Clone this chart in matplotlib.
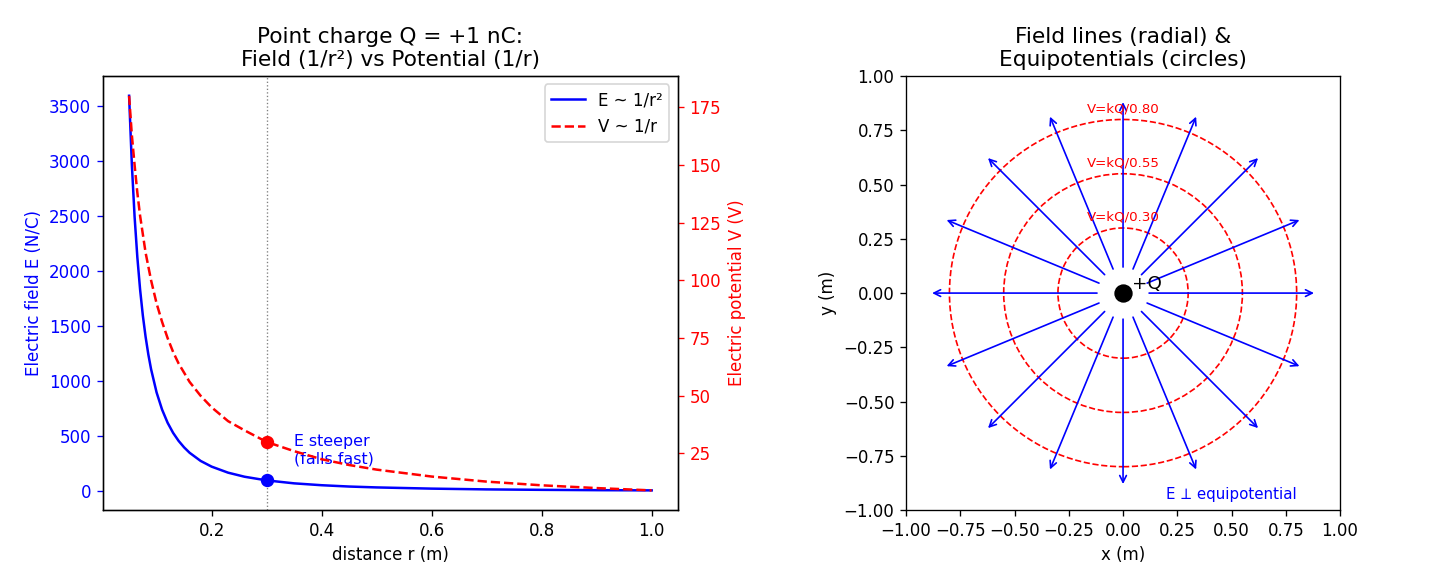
import numpy as np
import matplotlib
matplotlib.use("Agg")
import matplotlib.pyplot as plt

# distancias (m)
r = [0.05, 0.055, 0.06, 0.065, 0.07, 0.075, 0.08, 0.085, 0.09, 0.10, 0.11, 0.12,
     0.13, 0.14, 0.15, 0.16, 0.18, 0.20, 0.23, 0.26, 0.30, 0.35, 0.40, 0.45,
     0.50, 0.60, 0.70, 0.80, 0.90, 1.00]
# campo E (N/C)
E = [3596, 2972, 2497, 2128, 1835, 1598, 1405, 1244, 1110, 899, 743, 624,
     532, 459, 400, 351, 277, 225, 170, 133, 100, 73, 56, 44, 36, 25, 18,
     14, 11, 9]
# potencial V (V)
V = [180, 163, 150, 138, 128, 120, 112, 106, 100, 90, 82, 75, 69, 64, 60,
     56, 50, 45, 39, 35, 30, 26, 22.5, 20, 18, 15, 12.8, 11.2, 10, 9]

r_mark = 0.3
E_mark = 100
V_mark = 30

# lado direito: linhas de campo e equipotenciais
angulos = np.arange(0, 360, 22.5)
r_ini = 0.12
r_fim = 0.88
raios_eq = [0.30, 0.55, 0.80]

fig = plt.figure(figsize=(1430/120, 585/120), dpi=120)

ax1 = fig.add_axes([0.072, 0.128, 0.402, 0.742])
ax1.plot(r, E, color='blue', label='E ~ 1/r²')
ax1.set_xlabel('distance r (m)')
ax1.set_ylabel('Electric field E (N/C)', color='blue')
ax1.tick_params(axis='y', colors='blue')
ax1.axvline(r_mark, color='gray', linestyle=':', linewidth=0.8)
ax1.plot([r_mark], [E_mark], 'o', color='blue', ms=7)
ax1.text(0.35, 255, 'E steeper\n(falls fast)', color='blue', fontsize=9.5)

ax2 = ax1.twinx()
ax2.plot(r, V, color='red', linestyle='--', label='V ~ 1/r')
ax2.plot([r_mark], [V_mark], 'o', color='red', ms=7)
ax2.set_ylabel('Electric potential V (V)', color='red')
ax2.tick_params(axis='y', colors='red')

l1, n1 = ax1.get_legend_handles_labels()
l2, n2 = ax2.get_legend_handles_labels()
ax1.legend(l1 + l2, n1 + n2, loc='upper right')
ax1.set_title('Point charge Q = +1 nC:\nField (1/r²) vs Potential (1/r)', fontsize=13)

ax3 = fig.add_axes([0.6336, 0.128, 0.3035, 0.742])
for a in angulos:
    t = np.deg2rad(a)
    ax3.annotate('', xy=(r_fim*np.cos(t), r_fim*np.sin(t)),
                 xytext=(r_ini*np.cos(t), r_ini*np.sin(t)),
                 arrowprops=dict(arrowstyle='->', color='blue', lw=1,
                                 shrinkA=0, shrinkB=0))
for rr in raios_eq:
    c = plt.Circle((0, 0), rr, fill=False, color='red', linestyle='--', lw=1)
    ax3.add_patch(c)
    ax3.text(0, rr + 0.02, f'V=kQ/{rr:.2f}', color='red', fontsize=8,
             ha='center', va='bottom')
ax3.plot([0], [0], 'o', color='black', ms=10)
ax3.text(0.04, 0.02, '+Q', fontsize=11)
ax3.text(0.2, -0.95, 'E ⟂ equipotential', color='blue', fontsize=9,
         family=['DejaVu Sans', 'DejaVu Math TeX Gyre', 'Noto Sans CJK SC'])
ax3.set_xlim(-1, 1)
ax3.set_ylim(-1, 1)
ax3.set_aspect('equal')
ax3.set_xlabel('x (m)')
ax3.set_ylabel('y (m)')
ax3.set_title('Field lines (radial) &\nEquipotentials (circles)', fontsize=13)

fig.savefig('out.png', dpi=120)
